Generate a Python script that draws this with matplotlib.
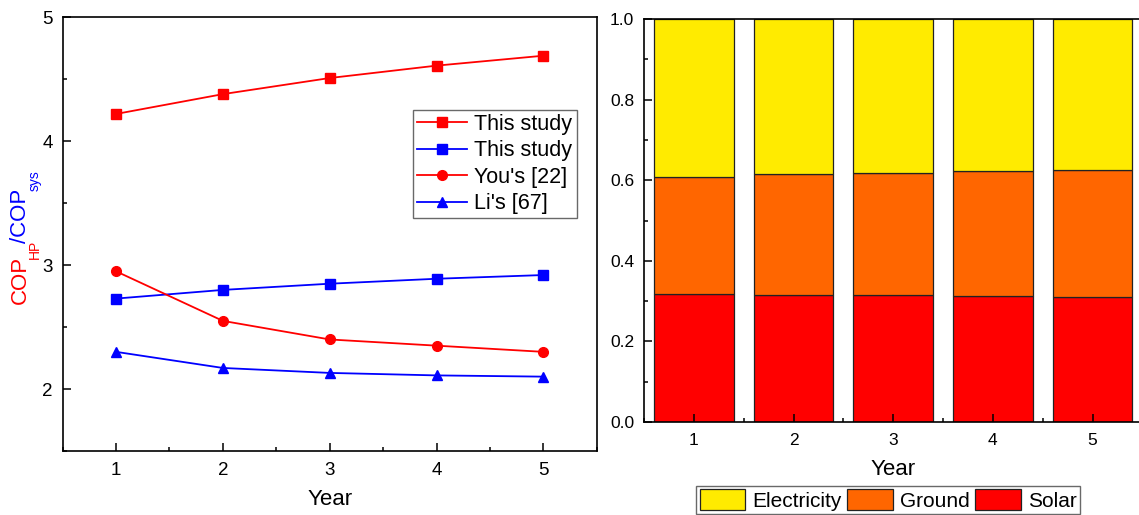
import numpy as np
import matplotlib
matplotlib.use('Agg')
from matplotlib import pyplot as plt
from matplotlib.ticker import MultipleLocator, FormatStrFormatter

plt.rcParams['font.family'] = ['Liberation Sans', 'DejaVu Sans']

years = [1, 2, 3, 4, 5]

# left panel: COP values
cop_hp = [4.22, 4.38, 4.51, 4.61, 4.69]
cop_sys = [2.73, 2.80, 2.85, 2.89, 2.92]
cop_you = [2.95, 2.55, 2.40, 2.35, 2.30]
cop_li = [2.30, 2.17, 2.13, 2.11, 2.10]

# right panel: energy share
solar = [0.318, 0.316, 0.314, 0.312, 0.311]
ground = [0.291, 0.300, 0.305, 0.311, 0.315]
electricity = [1 - s - g for s, g in zip(solar, ground)]

fig = plt.figure(figsize=(11.39, 5.15), dpi=100)

ax1 = fig.add_axes([0.055, 0.1243, 0.469, 0.8421])
ax2 = fig.add_axes([0.5654, 0.1806, 0.4376, 0.7824])

red = '#ff0000'
blue = '#0000ff'
lw = 1.3
ax1.plot(years, cop_hp, color=red, marker='s', ms=6.5, lw=lw, label='This study')
ax1.plot(years, cop_sys, color=blue, marker='s', ms=6.5, lw=lw, label='This study')
ax1.plot(years, cop_you, color=red, marker='o', ms=7, lw=lw, label="You's [22]")
ax1.plot(years, cop_li, color=blue, marker='^', ms=7.5, lw=lw, label="Li's [67]")

ax1.set_xlim(0.5, 5.5)
ax1.set_ylim(1.5, 5)
ax1.xaxis.set_major_locator(MultipleLocator(1))
ax1.xaxis.set_minor_locator(MultipleLocator(0.5))
ax1.yaxis.set_major_locator(MultipleLocator(1))
ax1.yaxis.set_minor_locator(MultipleLocator(0.5))
ax1.set_xlabel('Year', fontsize=16, labelpad=7)

leg1 = ax1.legend(loc='upper right', bbox_to_anchor=(0.962, 0.787), fontsize=15.5,
                  frameon=True, fancybox=False, edgecolor='#444444',
                  handlelength=2.3, handletextpad=0.35, labelspacing=0.25,
                  borderpad=0.2, borderaxespad=0)
leg1.get_frame().set_linewidth(1.0)

bottom2 = [s + g for s, g in zip(solar, ground)]
ax2.bar(years, solar, width=0.8, color='#ff0000', edgecolor='#222222', lw=0.9, label='Solar')
ax2.bar(years, ground, width=0.8, bottom=solar, color='#ff6600', edgecolor='#222222', lw=0.9, label='Ground')
ax2.bar(years, electricity, width=0.8, bottom=bottom2, color='#ffeb00', edgecolor='#222222', lw=0.9, label='Electricity')

ax2.set_xlim(0.5, 5.5)
ax2.set_ylim(0, 1)
ax2.xaxis.set_major_locator(MultipleLocator(1))
ax2.xaxis.set_minor_locator(MultipleLocator(0.5))
ax2.yaxis.set_major_locator(MultipleLocator(0.2))
ax2.yaxis.set_minor_locator(MultipleLocator(0.1))
ax2.yaxis.set_major_formatter(FormatStrFormatter('%.1f'))
ax2.set_xlabel('Year', fontsize=16, labelpad=8)

for ax, fs in ((ax1, 13.5), (ax2, 12.5)):
    ax.tick_params(which='major', direction='in', length=6, width=1.1, labelsize=fs, pad=7)
    ax.tick_params(which='minor', direction='in', length=3, width=1.1)
    ax.tick_params(axis='x', which='major', pad=8)
    for sp in ax.spines.values():
        sp.set_linewidth(1.2)

handles, labels = ax2.get_legend_handles_labels()
leg2 = fig.legend(handles[::-1], labels[::-1], loc='lower center', bbox_to_anchor=(0.780, 0.002),
                  ncol=3, fontsize=15, frameon=True, fancybox=False, edgecolor='#444444',
                  handlelength=2.2, handleheight=1.15, handletextpad=0.35, columnspacing=0.25,
                  borderpad=0.15, borderaxespad=0)
leg2.get_frame().set_linewidth(1.0)

# two-colour y label, built piece by piece from the bottom up
fig.canvas.draw()
r = fig.canvas.get_renderer()
parts = [('COP', red, 16, 20), ('HP', red, 10, 35),
         ('/COP', blue, 16, 20), ('sys', blue, 10, 35)]
y = 515 - 304
for s, c, fs, xpx in parts:
    t = fig.text(xpx / 1139, y / 515, s, color=c, fontsize=fs,
                 rotation=90, ha='center', va='bottom')
    y = t.get_window_extent(r).y1 - 3

fig.savefig('out.png', dpi=100)
